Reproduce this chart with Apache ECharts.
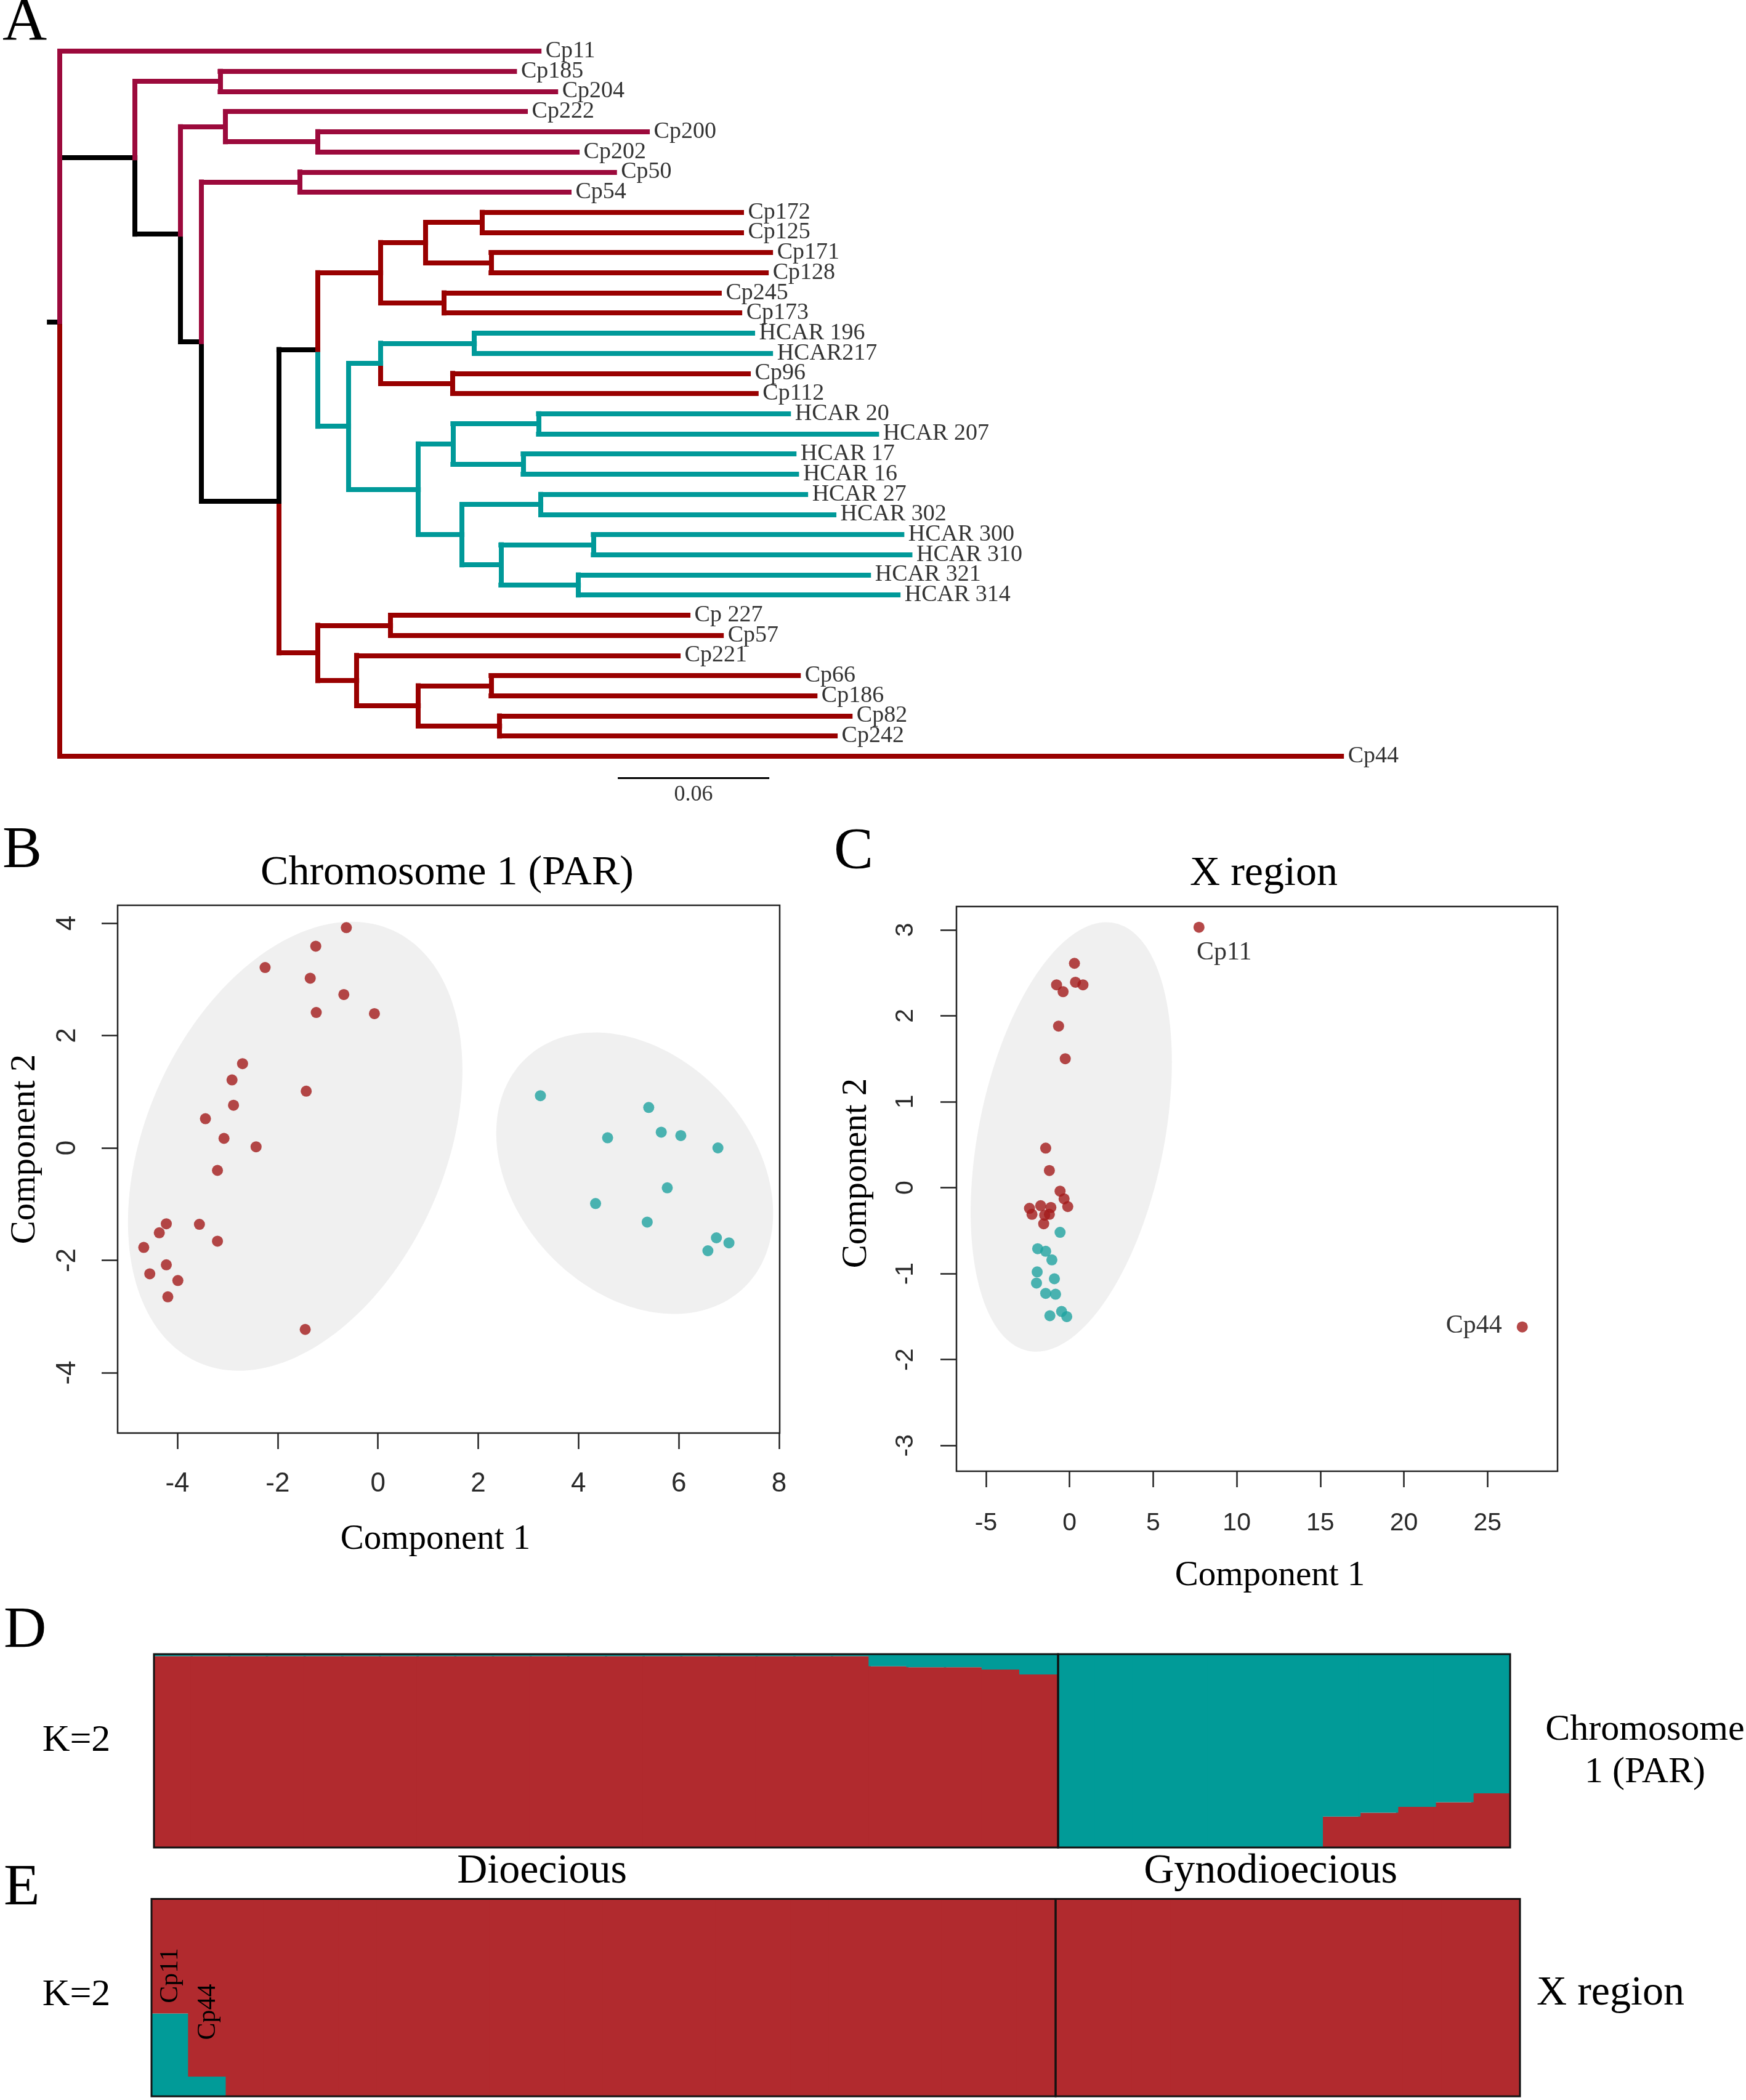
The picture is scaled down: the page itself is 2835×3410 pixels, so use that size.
<!DOCTYPE html>
<html><head><meta charset="utf-8">
<script src="https://cdn.jsdelivr.net/npm/echarts@6/dist/echarts.min.js"></script>
<style>html,body{margin:0;padding:0;background:#fff}#c{width:2835px;height:3410px}</style>
</head><body><div id="c"></div>
<script>
// ---------- Panel A: tree (Newick, branch lengths in substitution units) ----------
const treeNewick = "(Cp11:0.1898,((Cp185:0.1166,Cp204:0.1329)N2:0.0337,((Cp222:0.1188,(Cp200:0.1305,Cp202:0.1027)N5:0.0366)N4:0.0178,((Cp50:0.1246,Cp54:0.1066)N7:0.0390,(((((Cp172:0.1027,Cp125:0.1027)N12:0.0224,(Cp171:0.1107,Cp128:0.1090)N13:0.0259)N11:0.0178,(Cp245:0.1090,Cp173:0.1171)N14:0.0251)N10:0.0249,(((HCAR_196:0.1102,HCAR217:0.1173)N17:0.0371,(Cp96:0.1171,Cp112:0.1202)N18:0.0285)N16:0.0127,(((HCAR_20:0.0990,HCAR_207:0.1339)N21:0.0339,(HCAR_17:0.1073,HCAR_16:0.1083)N22:0.0278)N20:0.0137,((HCAR_27:0.1049,HCAR_302:0.1161)N24:0.0312,((HCAR_300:0.1222,HCAR_310:0.1254)N26:0.0366,(HCAR_321:0.1149,HCAR_314:0.1266)N27:0.0307)N25:0.0154)N23:0.0173)N19:0.0276)N15:0.0122)N9:0.0154,((Cp_227:0.1178,Cp57:0.1310)N29:0.0288,(Cp221:0.1273,((Cp66:0.1217,Cp186:0.1283)N32:0.0288,(Cp82:0.1388,Cp242:0.1329)N33:0.0322)N31:0.0244)N30:0.0154)N28:0.0154)N8:0.0307)N6:0.0083)N3:0.0180)N1:0.0298,Cp44:0.5076)root:0.0041;";
const blackEdges = ['root','N1','N3','N6','N8','N9'];
const crimsonEdges = ['Cp11','N2','Cp185','Cp204','N4','Cp222','N5','Cp200','Cp202','N7','Cp50','Cp54'];
const tealEdges = ['N15','N16','N17','HCAR_196','HCAR217','N19','N20','N21','HCAR_20','HCAR_207','N22','HCAR_17','HCAR_16','N23','N24','HCAR_27','HCAR_302','N25','N26','HCAR_300','HCAR_310','N27','HCAR_321','HCAR_314'];
const scaleBarStart = 0.221, scaleBarLen = 0.06;

// ---------- Panel B: Chromosome 1 (PAR) ----------
const parRedX = [-0.63,-1.24,-2.25,-1.35,-0.68,-1.23,-0.07,-2.70,-2.91,-1.43,-2.88,-3.44,-3.07,-2.43,-3.20,-4.22,-3.56,-4.36,-4.67,-3.20,-4.22,-4.55,-3.99,-4.19,-1.45];
const parRedY = [3.92,3.59,3.21,3.02,2.73,2.41,2.39,1.50,1.21,1.01,0.76,0.52,0.17,0.02,-0.40,-1.35,-1.36,-1.51,-1.77,-1.66,-2.08,-2.24,-2.36,-2.65,-3.23];
const parTealX = [3.24,5.40,4.58,5.65,6.04,6.78,5.77,4.34,5.37,6.75,7.00,6.58];
const parTealY = [0.93,0.72,0.18,0.28,0.22,0.00,-0.71,-0.99,-1.32,-1.60,-1.69,-1.83];
// ellipse: [cx, cy, varX, covXY, varY]
const parEllipses = [[-1.65,0.03,11.12,4.5,15.96],[5.12,-0.45,7.62,-1.97,6.27]];
const parXTicks = [-4,-2,0,2,4,6,8];
const parYTicks = [-4,-2,0,2,4];

// ---------- Panel C: X region ----------
const xRedX = [0.29,-0.78,-0.39,0.35,0.80,-0.66,-0.26,-1.43,-1.21,-0.57,-0.33,-0.11,-2.40,-2.25,-1.73,-1.12,-1.49,-1.21,-1.55];
const xRedY = [2.61,2.36,2.28,2.39,2.36,1.88,1.50,0.46,0.20,-0.04,-0.13,-0.22,-0.24,-0.31,-0.21,-0.23,-0.32,-0.31,-0.42];
const xTealX = [-0.57,-1.91,-1.43,-1.06,-1.94,-0.91,-1.98,-1.43,-0.84,-1.18,-0.48,-0.17];
const xTealY = [-0.52,-0.71,-0.74,-0.84,-0.98,-1.06,-1.11,-1.23,-1.24,-1.49,-1.44,-1.50];
const xOutlierNames = ['Cp11','Cp44'];
const xOutlierX = [7.74,27.08];
const xOutlierY = [3.03,-1.62];
const xEllipses = [[0.10,0.59,36.2,5.25,6.24]];
const xXTicks = [-5,0,5,10,15,20,25];
const xYTicks = [-3,-2,-1,0,1,2,3];

// ---------- Panels D/E: STRUCTURE K=2 ----------
const dioIds = Array.from({length:24},(_,i)=>'d'+(i+1));
const gynoIds = Array.from({length:12},(_,i)=>'g'+(i+1));
const parDioRed = [0.99,0.99,0.99,0.99,0.99,0.99,0.99,0.99,0.99,0.99,0.99,0.99,0.99,0.99,0.99,0.99,0.99,0.99,0.99,0.937,0.932,0.932,0.92,0.895];
const parGynoRed = [0,0,0,0,0,0,0,0.16,0.18,0.21,0.234,0.28];
const xDioTeal = [0.42,0.10,0,0,0,0,0,0,0,0,0,0,0,0,0,0,0,0,0,0,0,0,0,0];
const xGynoTeal = [0,0,0,0,0,0,0,0,0,0,0,0];

// ---------- colours ----------
const C_BLACK='#000000', C_CRIMSON='#9C0A3C', C_RED='#990000', C_TEAL='#009999';
const S_RED='#B12A2E', S_TEAL='#019B98';
const P_RED='#A31A1A', P_TEAL='#1FA3A0';
const SERIF='"Liberation Serif", "DejaVu Serif", serif';
const SANS='"Liberation Sans", Arial, sans-serif';

// ---------- tree parsing / layout ----------
function parseNewick(s){
  let i=0;
  function node(){
    const n={children:[]};
    if(s[i]==='('){
      i++; n.children.push(node());
      while(s[i]===','){i++; n.children.push(node());}
      i++;
    }
    let name=''; while(i<s.length && ',():;'.indexOf(s[i])<0) name+=s[i++];
    n.name=name; n.len=0;
    if(s[i]===':'){ i++; let num=''; while(i<s.length && ',();'.indexOf(s[i])<0) num+=s[i++]; n.len=parseFloat(num); }
    return n;
  }
  return node();
}
const treeRoot = parseNewick(treeNewick);
const tips=[]; let tipCounter=0;
function layout(n, depth){
  n.depth=depth;
  if(!n.children.length){ n.y=tipCounter++; tips.push(n); }
  else { n.children.forEach(c=>layout(c, depth+c.len)); n.y = n.children.reduce((a,c)=>a+c.y,0)/n.children.length; }
}
layout(treeRoot,0);
function edgeColor(name){
  if(blackEdges.includes(name)) return C_BLACK;
  if(crimsonEdges.includes(name)) return C_CRIMSON;
  if(tealEdges.includes(name)) return C_TEAL;
  return C_RED;
}
const segs=[{coords:[[-treeRoot.len,treeRoot.y],[0,treeRoot.y]], lineStyle:{color:edgeColor('root')}}];
function drawNode(n){
  const kids=n.children.slice().reverse();
  kids.forEach(c=>{
    const col=edgeColor(c.name);
    segs.push({coords:[[n.depth,n.y],[n.depth,c.y]], lineStyle:{color:col}});
    segs.push({coords:[[n.depth,c.y],[c.depth,c.y]], lineStyle:{color:col}});
  });
  kids.forEach(drawNode);
}
drawNode(treeRoot);
const scaleY = 36.07;
segs.push({coords:[[scaleBarStart,scaleY],[scaleBarStart+scaleBarLen,scaleY]], lineStyle:{color:'#000',width:3,cap:'butt'}});

// ---------- helpers ----------
function zip(xs,ys){ return xs.map((x,i)=>[x,ys[i]]); }
function ellipseSeries(xi, data){
  return {type:'custom', xAxisIndex:xi, yAxisIndex:xi, coordinateSystem:'cartesian2d', data:data, silent:true, z:1, clip:false,
    renderItem:function(p,api){
      const cx=api.value(0), cy=api.value(1), a=api.value(2), b=api.value(3), c=api.value(4);
      const l11=Math.sqrt(a), l21=b/l11, l22=Math.sqrt(c-l21*l21);
      const pts=[];
      for(let k=0;k<180;k++){ const t=k/180*2*Math.PI; pts.push(api.coord([cx+l11*Math.cos(t), cy+l21*Math.cos(t)+l22*Math.sin(t)])); }
      return {type:'polygon', shape:{points:pts}, style:{fill:'#F0F0F0', stroke:null}};
    }};
}
function valAxis(gi, min, max, ticks, margin, fontSize, rotate){
  return {gridIndex:gi, type:'value', min:min, max:max, axisLine:{show:false, onZero:false}, splitLine:{show:false},
    axisTick:{show:true, length:26, customValues:ticks, lineStyle:{color:'#222', width:2.5}},
    axisLabel:{show:true, customValues:ticks, margin:margin, fontSize:fontSize, color:'#2a2a2a', fontFamily:SANS, rotate:rotate||0}};
}
function hiddenAxis(gi, extra){ return Object.assign({gridIndex:gi, show:false}, extra); }
function txt(s,x,y,size,rot,align){
  return {type:'text', x:x, y:y, rotation:rot||0, z:20, style:{text:s, fontSize:size, fontFamily:SERIF, fill:'#000', align:align||'center', verticalAlign:'middle'}};
}

const grids = [
  {left:56, top:83, width:2296, height:1210.3},                 // 0 tree
  {left:191, top:1470, width:1075, height:857, show:true, borderColor:'#222', borderWidth:2.5, backgroundColor:'transparent', z:3}, // 1 B
  {left:1553, top:1472, width:976, height:917, show:true, borderColor:'#222', borderWidth:2.5, backgroundColor:'transparent', z:3},  // 2 C
  {left:250, top:2686, width:1468, height:314, show:true, borderColor:'#111', borderWidth:3, backgroundColor:'transparent', z:3},   // 3 D dio
  {left:1718, top:2686, width:734, height:314, show:true, borderColor:'#111', borderWidth:3, backgroundColor:'transparent', z:3},   // 4 D gyno
  {left:246, top:3083.5, width:1468, height:320.5, show:true, borderColor:'#111', borderWidth:3, backgroundColor:'transparent', z:3}, // 5 E dio
  {left:1714, top:3083.5, width:754, height:320.5, show:true, borderColor:'#111', borderWidth:3, backgroundColor:'transparent', z:3}  // 6 E gyno
];

const xAxes = [
  hiddenAxis(0,{type:'value', min:-0.01, max:0.55}),
  valAxis(1,-5.191,8.012,parXTicks,61,44,0),
  valAxis(2,-6.769,29.19,xXTicks,64,41,0),
  hiddenAxis(3,{type:'category', data:dioIds}),
  hiddenAxis(4,{type:'category', data:gynoIds}),
  hiddenAxis(5,{type:'category', data:dioIds}),
  hiddenAxis(6,{type:'category', data:gynoIds})
];
const yAxes = [
  hiddenAxis(0,{type:'value', min:0, max:37, inverse:true}),
  valAxis(1,-5.074,4.318,parYTicks,59,44,90),
  valAxis(2,-3.299,3.271,xYTicks,62,41,90),
  hiddenAxis(3,{type:'value', min:0, max:1}),
  hiddenAxis(4,{type:'value', min:0, max:1}),
  hiddenAxis(5,{type:'value', min:0, max:1}),
  hiddenAxis(6,{type:'value', min:0, max:1})
];

function bar(gi, stack, vals, color){
  return {type:'bar', xAxisIndex:gi, yAxisIndex:gi, stack:stack, data:vals, barCategoryGap:'0%', barWidth:'106%',
    itemStyle:{color:color}, silent:true};
}

const series = [
  {type:'lines', coordinateSystem:'cartesian2d', xAxisIndex:0, yAxisIndex:0, polyline:false, silent:true,
    lineStyle:{width:8, opacity:1, cap:'square'}, data:segs, z:3},
  {type:'scatter', xAxisIndex:0, yAxisIndex:0, symbolSize:1, itemStyle:{color:'rgba(0,0,0,0)'}, silent:true,
    data:tips.map(t=>({value:[t.depth,t.y], name:t.name.replace(/_/g,' ')})),
    label:{show:true, position:'right', distance:10, formatter:'{b}', fontSize:38, fontFamily:SERIF, color:'#000'}},
  {type:'scatter', xAxisIndex:0, yAxisIndex:0, symbolSize:1, itemStyle:{color:'rgba(0,0,0,0)'}, silent:true,
    data:[{value:[scaleBarStart+scaleBarLen/2, 36.93], name:String(scaleBarLen)}],
    label:{show:true, position:'inside', formatter:'{b}', fontSize:36, fontFamily:SERIF, color:'#000'}},
  ellipseSeries(1, parEllipses),
  {type:'scatter', xAxisIndex:1, yAxisIndex:1, symbolSize:18, itemStyle:{color:P_RED}, data:zip(parRedX,parRedY), z:3},
  {type:'scatter', xAxisIndex:1, yAxisIndex:1, symbolSize:18, itemStyle:{color:P_TEAL}, data:zip(parTealX,parTealY), z:3},
  ellipseSeries(2, xEllipses),
  {type:'scatter', xAxisIndex:2, yAxisIndex:2, symbolSize:18, itemStyle:{color:P_RED}, data:zip(xRedX,xRedY), z:3},
  {type:'scatter', xAxisIndex:2, yAxisIndex:2, symbolSize:18, itemStyle:{color:P_TEAL}, data:zip(xTealX,xTealY), z:3},
  {type:'scatter', xAxisIndex:2, yAxisIndex:2, symbolSize:18, itemStyle:{color:P_RED}, z:3,
    data:[
      {value:[xOutlierX[0],xOutlierY[0]], name:xOutlierNames[0], label:{show:true, position:'bottom', offset:[41,6], distance:5}},
      {value:[xOutlierX[1],xOutlierY[1]], name:xOutlierNames[1], label:{show:true, position:'left', distance:24, offset:[0,-2]}}
    ],
    label:{formatter:'{b}', fontSize:42, fontFamily:SERIF, color:'#000'}},
  bar(3,'d',parDioRed,S_RED), bar(3,'d',parDioRed.map(v=>+(1-v).toFixed(3)),S_TEAL),
  bar(4,'g',parGynoRed,S_RED), bar(4,'g',parGynoRed.map(v=>+(1-v).toFixed(3)),S_TEAL),
  bar(5,'e',xDioTeal,S_TEAL), bar(5,'e',xDioTeal.map(v=>+(1-v).toFixed(3)),S_RED),
  bar(6,'f',xGynoTeal,S_TEAL), bar(6,'f',xGynoTeal.map(v=>+(1-v).toFixed(3)),S_RED)
];

const graphics = [
  txt('A',4,39,100,0,'left'),
  txt('B',4,1383,96,0,'left'),
  txt('C',1354,1385,96,0,'left'),
  txt('D',6,2650,96,0,'left'),
  txt('E',6,3068,96,0,'left'),
  txt('Chromosome 1 (PAR)',726,1418,68),
  txt('X region',2052,1419,68),
  txt('Component 1',707,2500,57),
  txt('Component 2',41,1866,57,Math.PI/2),
  txt('Component 1',2062,2559,57),
  txt('Component 2',1391,1905,57,Math.PI/2),
  txt('K=2',124,2827,62),
  txt('K=2',124,3240,62),
  txt('Chromosome',2671,2809,60),
  txt('1 (PAR)',2671,2878,60),
  txt('X region',2615,3237,68),
  txt('Dioecious',880,3039,68),
  txt('Gynodioecious',2063,3039,68),
  txt('Cp11',277,3208,42,Math.PI/2),
  txt('Cp44',338,3267,42,Math.PI/2)
];

const chart = echarts.init(document.getElementById('c'), null, {renderer:'canvas', width:2835, height:3410});
chart.setOption({animation:false, backgroundColor:'#ffffff', grid:grids, xAxis:xAxes, yAxis:yAxes, series:series, graphic:graphics});
</script>
</body></html>
